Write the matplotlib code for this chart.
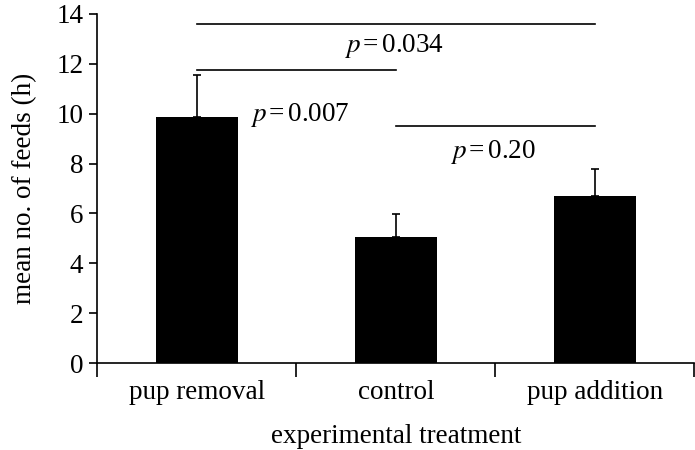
import matplotlib
matplotlib.use("Agg")
from matplotlib import pyplot as plt

# data
treatments = ["pup removal", "control", "pup addition"]
mean_feeds = [9.85, 5.05, 6.72]
err_up = [1.7, 0.93, 1.08]

# significance brackets: (from bar, to bar, height)
brackets = [
    (0, 2, 13.6),
    (0, 1, 11.75),
    (1, 2, 9.5),
]
p_labels = ["0.034", "0.007", "0.20"]

plt.rcParams['font.family'] = ['Liberation Serif', 'DejaVu Serif']
plt.rcParams['mathtext.fontset'] = 'stix'

fs = 19.5
fig = plt.figure(figsize=(6.95, 4.5), dpi=100)
ax = fig.add_axes([0.14, 0.193, 0.859, 0.776])

x = list(range(len(treatments)))
ax.bar(x, mean_feeds, width=0.41, color='black')
ax.errorbar(x, mean_feeds, yerr=[[0, 0, 0], err_up], fmt='none',
            ecolor='black', elinewidth=1.2, capsize=3, capthick=1.2)

for a, b, h in brackets:
    ax.plot([a, b], [h, h], color='black', lw=1.2)

# p-value labels
ax.text(0.99, 12.72, r'$p\,$=$\,$' + p_labels[0], ha='center', va='center', fontsize=fs)
ax.text(0.265, 9.95, r'$p\,$=$\,$' + p_labels[1], ha='left', va='center', fontsize=fs)
ax.text(1.49, 8.46, r'$p\,$=$\,$' + p_labels[2], ha='center', va='center', fontsize=fs)

ax.set_xlim(-0.5, 2.5)
ax.set_ylim(0, 14)
ax.set_yticks(range(0, 15, 2))
ax.set_xticks([-0.5, 0.5, 1.5, 2.5])
ax.set_xticklabels([])
ax.set_xticks(x, minor=True)
ax.set_xticklabels(treatments, minor=True)
ax.tick_params(axis='x', which='minor', length=0, pad=12, labelsize=fs)
ax.tick_params(axis='x', which='major', length=10, width=1.2, direction='out')
ax.tick_params(axis='y', length=6, width=1.2, labelsize=fs, pad=4)

for s in ['top', 'right']:
    ax.spines[s].set_visible(False)
for s in ['left', 'bottom']:
    ax.spines[s].set_linewidth(1.2)

ax.set_ylabel('mean no. of feeds (h)', fontsize=fs, labelpad=14)
ax.set_xlabel('experimental treatment', fontsize=fs, labelpad=14)

fig.savefig('out.png', dpi=100)
